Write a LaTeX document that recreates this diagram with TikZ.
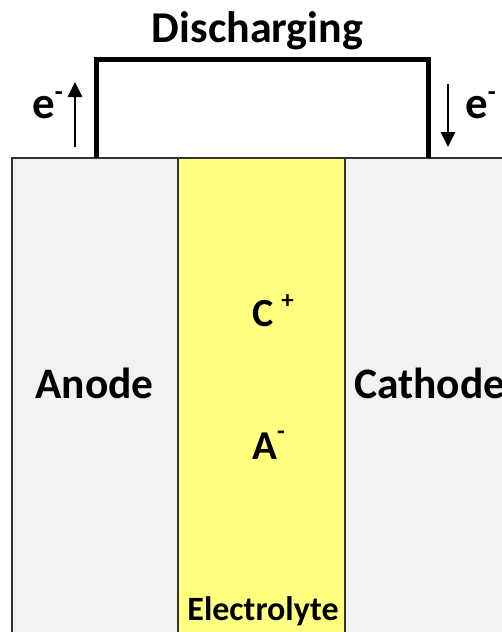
\documentclass[tikz,border=0pt]{standalone}
\usepackage{fontspec}
\setmainfont{Carlito}
\usetikzlibrary{arrows.meta}
\definecolor{electrodegray}{RGB}{242,242,242}
\definecolor{electrolyteyellow}{RGB}{255,255,128}
\definecolor{edgegray}{RGB}{50,50,50}
\tikzset{
  layer/.style={draw=edgegray, line width=1.2pt},
  wire/.style={line width=5pt, line join=miter},
  flow/.style={line width=2.8pt, -{Triangle[width=14pt,length=15pt]}},
  label/.style={inner sep=0pt, font=\bfseries\fontsize{43.5}{43.5}\selectfont, anchor=base},
}
\begin{document}
\begin{tikzpicture}[x=1pt,y=-1pt]
  \useasboundingbox (0,0) rectangle (502,632);
  \clip (0,0) rectangle (502,632);
  % cell layers
  \fill[electrodegray, layer] (12,158) rectangle (178,640);
  \fill[electrolyteyellow, layer] (178,158) rectangle (345,640);
  \fill[electrodegray, layer] (345,158) rectangle (520,640);
  % external circuit
  \coordinate (anodetop) at (96,158);
  \coordinate (cathodetop) at (428,158);
  \draw[wire] (anodetop) |- (262,59) -| (cathodetop);
  \node[label, font=\bfseries\fontsize{44}{44}\selectfont] (title) at (257.5,42) {Discharging};
  % electron flow
  \coordinate (lefttail) at (75,147);
  \coordinate (lefttip) at (75,82);
  \draw[flow] (lefttail) -- (lefttip);
  \coordinate (righttail) at (448,84);
  \coordinate (righttip) at (448,147);
  \draw[flow] (righttail) -- (righttip);
  \node[label, anchor=base west, font=\bfseries\fontsize{45}{45}\selectfont] (eleft) at (32,118) {e\raisebox{0.4em}{\fontsize{26}{26}\selectfont -}};
  \node[label, anchor=base west, font=\bfseries\fontsize{45}{45}\selectfont] (eright) at (465,118) {e\raisebox{0.4em}{\fontsize{26}{26}\selectfont -}};
  % layer labels
  \node[label] (anode) at (94.5,398) {Anode};
  \node[label, anchor=base west] (cathode) at (354,398) {Cathode};
  \node[label, font=\bfseries\fontsize{34}{34}\selectfont] (electrolyte) at (263,620) {Electrolyte};
  % ions
  \node[label, anchor=base west, font=\bfseries\fontsize{40}{40}\selectfont] (cation) at (252,326) {C\hspace{0.2em}\raisebox{0.45em}{\fontsize{25}{25}\selectfont +}};
  \node[label, anchor=base west, font=\bfseries\fontsize{41}{41}\selectfont] (anion) at (252,459) {A\raisebox{0.48em}{\fontsize{25}{25}\selectfont -}};
\end{tikzpicture}
\end{document}
